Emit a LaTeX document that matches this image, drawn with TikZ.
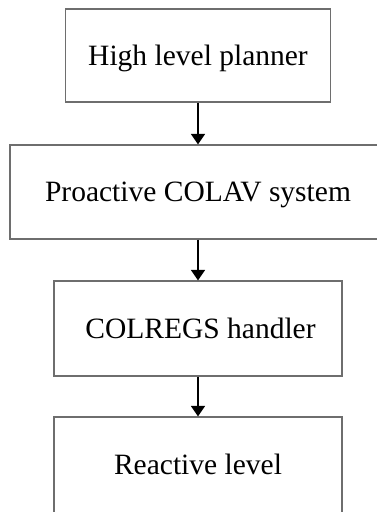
\documentclass[tikz,border=0pt]{standalone}
\usepackage{fontspec}
\setmainfont{Liberation Serif}
\usetikzlibrary{arrows.meta}
\definecolor{boxline}{RGB}{110,110,110}
\begin{document}
\begin{tikzpicture}[x=1pt,y=-1pt,
  stage/.style={draw=boxline, line width=1.2pt, rectangle, inner sep=0pt,
    font=\fontsize{29.5}{34}\selectfont, text height=19.3pt, text depth=0pt,
    align=center},
  flow/.style={line width=1.6pt, -{Triangle[width=14pt,length=10.5pt]}}]
  \useasboundingbox (0,0) rectangle (377,512);
  \node[stage, minimum width=265pt, minimum height=93pt] (hlp) at (198,55.5) {High level planner};
  \node[stage, minimum width=376pt, minimum height=94pt] (pro) at (198,192) {Proactive COLAV system};
  \node[stage, minimum width=288pt, minimum height=95pt] (col) at (198,328.5) {\hspace*{5pt}COLREGS handler};
  \node[stage, minimum width=288pt, minimum height=96pt] (rea) at (198,465) {Reactive level};
  \draw[flow] (hlp.south) -- (pro.north);
  \draw[flow] (pro.south) -- (col.north);
  \draw[flow] (col.south) -- (rea.north);
\end{tikzpicture}
\end{document}
